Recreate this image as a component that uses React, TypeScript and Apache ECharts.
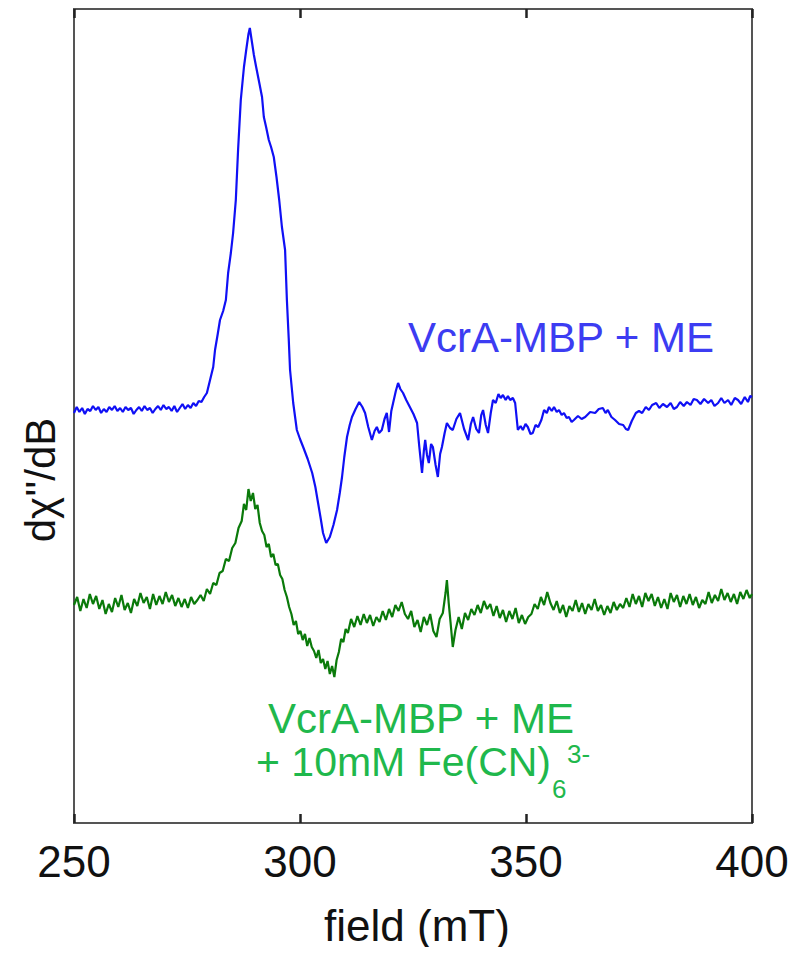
import React, { useEffect, useRef } from "react";
import * as echarts from "echarts";

const xTicks = [250, 300, 350, 400];

// [field (mT), signal (a.u.)]
const blueField = [250.0,250.6,251.2,251.8,252.4,253.0,253.6,254.2,254.8,255.4,256.0,256.6,257.2,257.8,258.4,259.0,259.6,260.2,260.8,261.4,262.0,262.6,263.2,263.8,264.4,265.0,265.6,266.2,266.8,267.4,268.0,268.6,269.2,269.8,270.4,271.0,271.6,272.2,272.8,273.4,274.0,274.6,275.2,275.8,276.4,277.0,277.6,278.2,278.8,279.4,280.1,280.8,281.2,281.8,282.3,283.0,283.6,284.1,284.7,285.2,285.8,286.3,286.9,287.6,288.1,288.6,288.9,289.4,289.8,290.3,291.0,291.6,292.0,292.5,293.1,293.6,294.2,294.8,295.4,296.0,296.7,297.1,297.5,297.8,298.5,299.3,300.0,300.7,301.7,302.7,303.4,304.0,304.6,305.1,305.8,306.6,307.4,308.2,308.8,309.3,309.8,310.4,311.0,311.5,312.3,313.1,313.8,314.4,315.1,315.9,316.5,317.0,317.5,318.1,318.7,319.2,319.7,320.2,320.6,321.2,321.7,322.2,322.8,323.5,324.3,325.1,325.9,326.4,327.0,327.4,327.7,328.1,328.5,329.0,329.4,330.0,330.5,331.0,331.4,332.0,332.5,333.2,333.8,334.6,335.4,336.3,337.2,337.8,338.3,339.0,339.6,340.1,340.5,341.1,341.6,342.2,342.7,343.3,343.9,344.4,344.9,345.5,346.0,346.5,347.1,347.6,348.2,348.8,349.3,349.9,350.4,351.0,351.5,352.1,352.7,353.4,354.0,354.6,355.1,355.7,356.2,356.8,357.3,357.9,358.4,359.0,359.5,360.1,360.6,361.5,362.3,363.1,364.2,365.3,366.1,367.0,367.6,368.1,368.9,369.7,370.6,371.5,372.1,372.6,373.4,374.3,375.0,375.7,376.5,377.2,377.9,378.8,379.5,380.3,381.2,382.0,382.7,383.4,384.1,384.9,385.6,386.4,387.1,387.8,388.6,389.4,390.3,391.0,391.7,392.5,393.2,393.9,394.7,395.4,396.2,396.9,397.6,398.4,399.1,399.6,400.0];
const blueSignal = [41.0,41.6,41.1,41.5,40.9,41.4,41.2,41.7,41.3,41.6,41.0,41.4,41.1,41.6,41.3,41.7,41.2,41.5,41.1,41.6,41.3,41.5,40.9,41.3,41.6,41.2,41.7,41.3,41.5,41.0,41.4,41.7,41.3,41.8,41.4,41.6,41.2,41.7,41.1,41.5,41.9,41.4,41.8,41.5,42.0,41.7,42.2,42.1,42.6,43.0,44.3,45.6,47.3,48.9,50.3,51.2,52.3,55.0,57.0,59.0,62.3,67.3,72.3,75.6,77.3,78.9,79.5,78.0,76.8,75.6,74.0,72.6,70.6,69.6,68.3,67.6,66.6,64.6,62.3,59.6,57.3,52.3,48.5,45.3,42.0,39.3,38.4,37.6,36.4,35.0,33.6,32.0,30.4,29.0,28.0,28.6,29.8,31.3,33.0,34.6,36.6,38.6,39.8,40.6,41.4,42.1,41.6,41.0,39.6,38.3,39.2,39.6,39.0,39.3,40.4,41.0,39.1,41.2,42.0,43.2,44.0,43.4,43.0,42.3,41.6,40.9,40.0,37.6,35.0,37.2,38.3,36.8,36.0,37.9,37.6,35.8,34.6,36.9,37.6,39.0,40.0,39.5,39.3,40.4,41.0,39.4,38.3,39.9,40.6,39.4,39.0,40.8,41.3,39.8,39.0,41.0,42.3,42.0,42.9,42.5,42.8,42.3,42.7,42.3,42.5,42.0,39.3,39.7,39.3,39.9,39.6,38.9,39.0,39.8,39.6,40.3,41.3,41.0,41.6,41.2,41.6,41.1,41.3,40.8,41.0,40.5,40.6,40.1,40.3,40.7,40.4,40.6,41.1,41.0,41.4,41.5,41.0,41.3,40.6,40.3,39.9,39.8,39.4,39.3,40.2,41.0,41.2,41.0,41.6,41.3,41.8,42.0,41.5,41.9,41.6,42.0,41.4,41.6,42.1,41.7,42.1,41.8,42.4,42.3,41.9,42.4,42.0,42.3,41.7,42.0,42.5,42.0,42.3,41.8,42.5,42.3,41.9,42.6,42.1,42.7,42.6];

const greenField = [250.0,250.7,251.4,252.1,252.8,253.5,254.2,254.9,255.6,256.3,257.0,257.7,258.4,259.1,259.8,260.5,261.2,261.9,262.6,263.3,264.0,264.7,265.4,266.1,266.8,267.5,268.2,268.9,269.6,270.3,271.0,271.7,272.4,273.1,273.8,274.5,275.2,275.9,276.6,277.3,278.0,278.7,279.4,280.1,280.8,281.5,282.2,282.9,283.6,284.3,285.0,285.7,286.4,287.1,287.6,288.1,288.6,289.1,289.6,290.1,290.6,291.1,291.6,292.1,292.6,293.1,293.6,294.1,294.6,295.1,295.6,296.1,296.6,297.1,297.6,298.1,298.6,299.1,299.6,300.1,300.6,301.1,301.6,302.1,302.6,303.1,303.6,304.1,304.6,305.1,305.6,306.1,306.6,307.1,307.6,308.1,308.6,309.1,309.6,310.1,310.6,311.3,312.0,312.7,313.4,314.1,314.8,315.5,316.2,316.9,317.6,318.3,319.0,319.7,320.4,321.1,321.8,322.5,323.2,323.9,324.6,325.3,326.0,326.7,327.4,328.1,328.8,329.5,330.2,330.9,331.6,332.2,332.5,332.9,333.3,333.8,334.4,335.1,335.8,336.5,337.2,337.9,338.6,339.3,340.0,340.7,341.4,342.1,342.8,343.5,344.2,344.9,345.6,346.3,347.0,347.7,348.4,349.1,349.8,350.5,351.2,351.9,352.6,353.3,354.0,354.7,355.4,356.1,356.8,357.5,358.2,358.9,359.6,360.3,361.0,361.7,362.4,363.1,363.8,364.5,365.2,365.9,366.6,367.3,368.0,368.7,369.4,370.1,370.8,371.5,372.2,372.9,373.6,374.3,375.0,375.7,376.4,377.1,377.8,378.5,379.2,379.9,380.6,381.3,382.0,382.7,383.4,384.1,384.8,385.5,386.2,386.9,387.6,388.3,389.0,389.7,390.4,391.1,391.8,392.5,393.2,393.9,394.6,395.3,396.0,396.7,397.4,398.1,398.8,399.5,400.0];
const greenSignal = [21.8,22.6,21.2,22.4,21.5,22.9,21.9,22.7,21.4,22.3,20.9,21.9,21.1,22.5,21.6,22.8,21.3,22.0,21.0,22.4,21.7,23.0,22.0,22.6,21.4,22.9,21.8,22.7,21.9,23.1,22.1,22.8,21.7,22.5,21.6,22.4,21.5,22.6,21.9,22.3,22.8,22.2,23.4,22.9,24.0,23.8,25.0,25.2,26.4,26.2,27.5,28.0,29.5,30.2,31.9,31.3,33.4,32.2,33.0,31.4,31.8,30.0,29.2,28.8,27.6,27.9,26.6,26.9,25.8,25.9,24.8,24.4,23.3,22.6,21.6,20.9,19.8,20.2,18.9,19.2,18.3,18.9,17.7,18.5,17.6,17.2,16.5,17.3,16.0,16.4,15.4,16.2,14.9,15.7,14.6,16.3,17.1,18.4,18.1,19.4,19.0,20.4,19.6,20.7,19.8,20.9,20.0,20.8,19.7,20.6,20.1,21.2,20.3,21.4,20.6,21.8,21.2,22.1,20.9,20.4,21.2,19.6,20.3,19.1,20.6,19.8,20.9,19.2,18.6,20.4,21.0,23.0,24.3,22.0,20.1,17.6,19.3,20.6,19.4,21.0,20.3,21.4,20.8,21.8,21.0,22.2,21.4,21.9,20.7,21.7,20.5,21.3,20.1,21.2,20.4,21.5,20.0,20.8,19.9,20.6,20.9,21.9,21.4,22.6,21.8,23.1,22.0,21.3,22.2,21.0,21.8,20.6,21.7,21.2,22.3,21.1,22.0,20.9,21.9,21.3,22.4,21.2,21.8,20.8,21.7,21.0,22.1,21.3,21.9,21.5,22.5,21.6,22.9,21.9,22.7,21.6,23.0,22.2,22.9,21.7,22.6,21.5,22.4,21.4,23.0,22.1,22.8,21.6,22.7,21.9,22.9,21.8,22.6,21.5,22.3,21.9,23.1,22.0,22.8,22.2,23.4,22.3,23.0,22.1,22.9,21.9,23.1,22.4,23.3,22.5,22.9];

const blueLabel = "VcrA-MBP + ME";
const greenLabel1 = "VcrA-MBP + ME";
const greenLabel2 = "+ 10mM Fe(CN)";
const greenSub = "6";
const greenSup = "3-";
const xName = "field (mT)";
const yName = "dχ''/dB";

export default function App() {
  const ref = useRef<HTMLDivElement>(null);
  useEffect(() => {
    if (!ref.current) return;
    const chart = echarts.init(ref.current, undefined, { renderer: "svg" });
    const font = "'Liberation Sans', Arial, sans-serif";
    const blue = blueField.map((x, i) => [x, blueSignal[i]]);
    const green = greenField.map((x, i) => [x, greenSignal[i]]);
    const tickCommon = {
      type: "value" as const,
      min: xTicks[0],
      max: xTicks[xTicks.length - 1],
      interval: 50,
      splitLine: { show: false },
      axisLine: { show: true, onZero: false, lineStyle: { color: "#555", width: 2 } },
      axisTick: { show: true, inside: true, length: 9, lineStyle: { color: "#222", width: 2.5 } },
    };
    chart.setOption({
      animation: false,
      backgroundColor: "#fff",
      grid: {
        left: 74,
        right: 48,
        top: 9,
        bottom: 132,
        show: true,
        borderColor: "#555",
        borderWidth: 2,
      },
      xAxis: [
        {
          ...tickCommon,
          position: "bottom",
          axisLabel: {
            show: true,
            margin: 16,
            fontSize: 44,
            color: "#111",
            fontFamily: font,
          },
        },
        {
          ...tickCommon,
          position: "top",
          axisLabel: { show: false },
        },
      ],
      yAxis: {
        type: "value",
        min: 0,
        max: 81.4,
        axisLine: { show: false },
        axisTick: { show: false },
        axisLabel: { show: false },
        splitLine: { show: false },
      },
      series: [
        {
          type: "line",
          data: blue,
          showSymbol: false,
          lineStyle: { color: "#1010f5", width: 2.2 },
          xAxisIndex: 0,
        },
        {
          type: "line",
          data: green,
          showSymbol: false,
          lineStyle: { color: "#0a7a0a", width: 2.2 },
          xAxisIndex: 0,
        },
      ],
      graphic: [
        {
          type: "text",
          x: 417,
          y: 925,
          style: { text: xName, fill: "#111", font: `44px ${font}`, align: "center", verticalAlign: "middle" },
        },
        {
          type: "text",
          x: 40,
          y: 480,
          rotation: Math.PI / 2,
          style: { text: yName, fill: "#111", font: `42px ${font}`, align: "center", verticalAlign: "middle" },
        },
        {
          type: "text",
          x: 561,
          y: 337,
          style: { text: blueLabel, fill: "#3c3cf2", font: `42px ${font}`, align: "center", verticalAlign: "middle" },
        },
        {
          type: "text",
          x: 421,
          y: 718,
          style: { text: greenLabel1, fill: "#1fb84c", font: `42px ${font}`, align: "center", verticalAlign: "middle" },
        },
        {
          type: "text",
          x: 256,
          y: 762,
          style: { text: greenLabel2, fill: "#1fb84c", font: `41px ${font}`, align: "left", verticalAlign: "middle" },
        },
        {
          type: "text",
          x: 552,
          y: 789,
          style: { text: greenSub, fill: "#1fb84c", font: `26px ${font}`, align: "left", verticalAlign: "middle" },
        },
        {
          type: "text",
          x: 567,
          y: 754,
          style: { text: greenSup, fill: "#1fb84c", font: `26px ${font}`, align: "left", verticalAlign: "middle" },
        },
      ],
    });
    return () => chart.dispose();
  }, []);
  return <div ref={ref} style={{ width: 800, height: 955, margin: -8 }} />;
}
